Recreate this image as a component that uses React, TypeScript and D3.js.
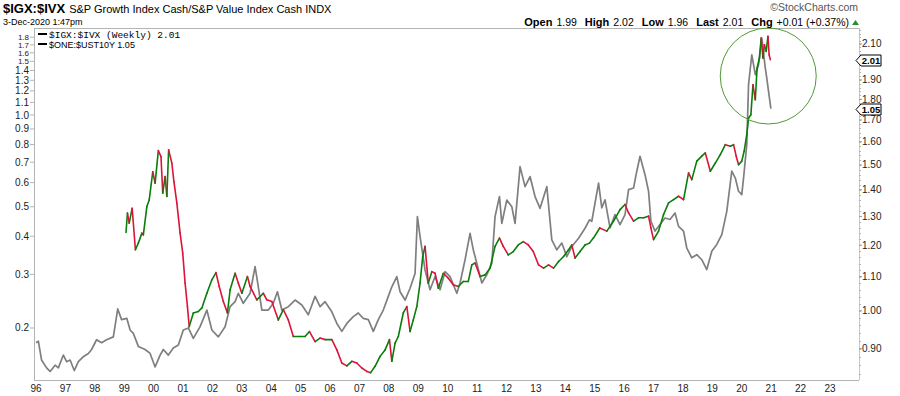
import { useEffect, useRef } from 'react';
import * as d3 from 'd3';

// $ONE:$UST10Y (gray, left log axis) - decimal year / value
const bondDates = [
  1996.0, 1996.08, 1996.19, 1996.36, 1996.48, 1996.65, 1996.76, 1996.93, 1997.04, 1997.16,
  1997.3, 1997.44, 1997.61, 1997.78, 1997.89, 1998.06, 1998.23, 1998.4, 1998.63, 1998.78,
  1998.91, 1999.09, 1999.2, 1999.31, 1999.48, 1999.71, 1999.88, 2000.05, 2000.22, 2000.33,
  2000.5, 2000.67, 2000.84, 2001.01, 2001.18, 2001.35, 2001.58, 2001.81, 2001.98, 2002.2,
  2002.43, 2002.6, 2002.77, 2002.88, 2003.05, 2003.28, 2003.45, 2003.56, 2003.68, 2003.9,
  2004.07, 2004.21, 2004.36, 2004.58, 2004.81, 2005.04, 2005.26, 2005.49, 2005.66, 2005.83,
  2006.06, 2006.23, 2006.4, 2006.57, 2006.79, 2006.96, 2007.13, 2007.3, 2007.47, 2007.64,
  2007.81, 2007.98, 2008.1, 2008.27, 2008.38, 2008.55, 2008.72, 2008.89, 2008.97, 2009.06,
  2009.23, 2009.4, 2009.57, 2009.74, 2009.91, 2010.08, 2010.31, 2010.42, 2010.59, 2010.76,
  2010.87, 2010.99, 2011.16, 2011.33, 2011.5, 2011.61, 2011.76, 2011.84, 2012.01, 2012.18,
  2012.29, 2012.46, 2012.63, 2012.8, 2012.97, 2013.14, 2013.37, 2013.54, 2013.71, 2013.88,
  2014.05, 2014.22, 2014.45, 2014.67, 2014.82, 2014.9, 2015.13, 2015.24, 2015.35, 2015.52,
  2015.69, 2015.86, 2016.03, 2016.15, 2016.32, 2016.43, 2016.54, 2016.71, 2016.83, 2016.91,
  2017.05, 2017.22, 2017.39, 2017.56, 2017.73, 2017.85, 2018.02, 2018.13, 2018.3, 2018.47,
  2018.64, 2018.81, 2018.98, 2019.15, 2019.32, 2019.49, 2019.66, 2019.78, 2019.89, 2020.0,
  2020.06, 2020.17, 2020.23, 2020.34, 2020.46, 2020.57, 2020.68, 2020.8, 2020.85, 2020.91,
  2020.99,
];
const bondValues = [
  0.179, 0.181, 0.157, 0.148, 0.144, 0.151, 0.148, 0.163, 0.155, 0.157,
  0.145, 0.155, 0.161, 0.165, 0.17, 0.183, 0.179, 0.183, 0.187, 0.231,
  0.213, 0.215, 0.197, 0.192, 0.174, 0.17, 0.165, 0.149, 0.163, 0.17,
  0.163, 0.172, 0.176, 0.197, 0.2, 0.185, 0.202, 0.229, 0.197, 0.187,
  0.202, 0.235, 0.244, 0.26, 0.241, 0.26, 0.318, 0.273, 0.229, 0.229,
  0.241, 0.263, 0.229, 0.235, 0.247, 0.238, 0.221, 0.254, 0.235, 0.244,
  0.226, 0.207, 0.195, 0.207, 0.218, 0.224, 0.215, 0.213, 0.195, 0.213,
  0.229, 0.254, 0.273, 0.295, 0.263, 0.247, 0.27, 0.302, 0.464, 0.399,
  0.31, 0.267, 0.295, 0.267, 0.306, 0.295, 0.26, 0.281, 0.335, 0.409,
  0.361, 0.326, 0.281, 0.299, 0.326, 0.464, 0.54, 0.441, 0.526, 0.5,
  0.441, 0.677, 0.582, 0.628, 0.54, 0.494, 0.582, 0.389, 0.361, 0.38,
  0.343, 0.37, 0.394, 0.425, 0.453, 0.448, 0.598, 0.496, 0.527, 0.426,
  0.471, 0.437, 0.471, 0.569, 0.576, 0.654, 0.732, 0.637, 0.562, 0.448,
  0.416, 0.437, 0.459, 0.454, 0.477, 0.431, 0.416, 0.366, 0.34, 0.348,
  0.335, 0.311, 0.357, 0.376, 0.405, 0.483, 0.654, 0.621, 0.562, 0.548,
  0.621, 0.799, 1.257, 1.577, 1.356, 1.462, 1.789, 1.426, 1.322, 1.196,
  1.05,
];

// $IGX:$IVX weekly ratio (red/green, right log axis)
const ratioDates = [
  1999.06, 1999.11, 1999.17, 1999.27, 1999.38, 1999.48, 1999.6, 1999.65, 1999.77, 1999.85,
  1999.97, 2000.05, 2000.16, 2000.25, 2000.31, 2000.39, 2000.45, 2000.51, 2000.62, 2000.69,
  2000.79, 2000.9, 2000.99, 2001.07, 2001.15, 2001.21, 2001.35, 2001.52, 2001.64, 2001.81,
  2001.98, 2002.12, 2002.23, 2002.37, 2002.51, 2002.6, 2002.77, 2002.88, 2003.0, 2003.19,
  2003.28, 2003.51, 2003.73, 2003.85, 2004.02, 2004.24, 2004.41, 2004.58, 2004.75, 2004.98,
  2005.15, 2005.3, 2005.49, 2005.66, 2005.83, 2006.06, 2006.23, 2006.4, 2006.57, 2006.74,
  2006.91, 2007.08, 2007.25, 2007.38, 2007.53, 2007.7, 2007.87, 2008.02, 2008.1, 2008.21,
  2008.32, 2008.49, 2008.61, 2008.72, 2008.83, 2008.95, 2009.06, 2009.15, 2009.23, 2009.34,
  2009.46, 2009.57, 2009.68, 2009.85, 2010.02, 2010.19, 2010.36, 2010.53, 2010.7, 2010.82,
  2010.93, 2011.1, 2011.27, 2011.44, 2011.61, 2011.76, 2011.89, 2012.06, 2012.23, 2012.4,
  2012.57, 2012.74, 2012.91, 2013.09, 2013.26, 2013.43, 2013.6, 2013.77, 2013.94, 2014.11,
  2014.22, 2014.33, 2014.5, 2014.67, 2014.82, 2014.96, 2015.17, 2015.41, 2015.64, 2015.86,
  2016.03, 2016.15, 2016.32, 2016.49, 2016.66, 2016.83, 2016.91, 2017.0, 2017.17, 2017.34,
  2017.51, 2017.68, 2017.85, 2018.02, 2018.19, 2018.3, 2018.47, 2018.64, 2018.76, 2018.93,
  2019.1, 2019.27, 2019.44, 2019.61, 2019.72, 2019.81, 2019.89, 2020.0, 2020.08, 2020.17,
  2020.23, 2020.31, 2020.38, 2020.46, 2020.52, 2020.6, 2020.66, 2020.72, 2020.77, 2020.83,
  2020.89, 2020.93, 2020.97,
];
const ratioValues = [
  1.243, 1.312, 1.276, 1.33, 1.185, 1.207, 1.241, 1.235, 1.336, 1.361,
  1.472, 1.426, 1.561, 1.535, 1.387, 1.452, 1.374, 1.564, 1.507, 1.432,
  1.349, 1.241, 1.174, 1.08, 1.012, 0.957, 0.994, 0.998, 1.008, 1.05,
  1.09, 1.112, 1.07, 1.026, 0.994, 1.06, 1.11, 1.08, 1.05, 1.1,
  1.07, 1.031, 1.05, 1.031, 1.026, 0.975, 1.003, 0.975, 0.931, 0.931,
  0.931, 0.944, 0.918, 0.927, 0.923, 0.923, 0.897, 0.865, 0.858, 0.869,
  0.865, 0.853, 0.845, 0.842, 0.857, 0.881, 0.897, 0.923, 0.869, 0.914,
  0.931, 0.994, 1.012, 0.944, 0.975, 1.012, 1.08, 1.163, 1.196, 1.08,
  1.115, 1.11, 1.065, 1.11, 1.095, 1.075, 1.07, 1.085, 1.085, 1.136,
  1.142, 1.1, 1.105, 1.126, 1.196, 1.224, 1.196, 1.168, 1.179, 1.201,
  1.212, 1.201, 1.179, 1.136, 1.126, 1.136, 1.126, 1.147, 1.163, 1.185,
  1.201, 1.158, 1.179, 1.201, 1.207, 1.225, 1.259, 1.248, 1.283, 1.325,
  1.344, 1.313, 1.283, 1.295, 1.295, 1.301, 1.259, 1.219, 1.248, 1.307,
  1.35, 1.362, 1.375, 1.362, 1.467, 1.44, 1.516, 1.537, 1.551, 1.474,
  1.508, 1.544, 1.587, 1.58, 1.587, 1.537, 1.501, 1.516, 1.558, 1.632,
  1.709, 1.725, 1.875, 1.798, 1.964, 2.019, 2.135, 2.019, 2.095, 2.057,
  2.145, 2.038, 2.01,
];

const leftTicks = [0.2, 0.3, 0.4, 0.5, 0.6, 0.7, 0.8, 0.9, 1.0, 1.1, 1.2, 1.3, 1.4, 1.5, 1.6, 1.7, 1.8];
const rightTicks = [0.9, 1.0, 1.1, 1.2, 1.3, 1.4, 1.5, 1.6, 1.7, 1.8, 1.9, 2.0, 2.1];
const yearTicks = d3.range(1996, 2024);

const quote = [
  { k: 'Open', v: '1.99' },
  { k: 'High', v: '2.02' },
  { k: 'Low', v: '1.96' },
  { k: 'Last', v: '2.01' },
  { k: 'Chg', v: '+0.01 (+0.37%)' },
];

const FONT = 'Liberation Sans, Arial, sans-serif';

export default function App() {
  const svgRef = useRef<SVGSVGElement>(null);

  useEffect(() => {
    if (!svgRef.current) return;
    const svg = d3.select(svgRef.current);
    svg.selectAll('*').remove();

    const left = 34, right = 859, top = 28, bottom = 380;

    const x = d3.scaleLinear().domain([1996, 2023]).range([36, 830]);
    const yL = d3.scaleLog().domain([0.135, 1.93]).range([bottom, top]);
    const yR = d3.scaleLog().domain([0.825, 2.195]).range([bottom, top]);

    // frame
    svg.append('line').attr('x1', left).attr('x2', right).attr('y1', top + 0.5).attr('y2', top + 0.5)
      .attr('stroke', '#b4b4b4');
    svg.append('line').attr('x1', left + 0.5).attr('x2', left + 0.5).attr('y1', top).attr('y2', bottom)
      .attr('stroke', '#b4b4b4');
    svg.append('line').attr('x1', left).attr('x2', right).attr('y1', bottom + 0.5).attr('y2', bottom + 0.5)
      .attr('stroke', '#b4b4b4');
    svg.append('line').attr('x1', right + 0.5).attr('x2', right + 0.5).attr('y1', top).attr('y2', bottom)
      .attr('stroke', '#c8c8c8');

    // left axis (top labels are crowded on the log scale, so a touch smaller)
    const la = svg.append('g');
    leftTicks.forEach(t => {
      const y = yL(t);
      la.append('line').attr('x1', left - 4).attr('x2', left).attr('y1', y).attr('y2', y).attr('stroke', '#b4b4b4');
      la.append('text').attr('x', left - 5).attr('y', y).attr('dy', '0.35em').attr('text-anchor', 'end')
        .attr('font-family', FONT).attr('font-size', t > 1.45 ? 8 : 10).attr('fill', '#222').text(t.toFixed(1));
    });

    // bottom axis
    yearTicks.forEach(yr => {
      svg.append('text').attr('x', x(yr)).attr('y', 392).attr('text-anchor', 'middle')
        .attr('font-family', FONT).attr('font-size', 10).attr('fill', '#222')
        .text(String(yr % 100).padStart(2, '0'));
    });

    // right axis minor ticks
    const ra = svg.append('g');
    d3.range(0.84, 2.19, 0.02).forEach(t => {
      const y = Math.round(yR(t)) + 0.5;
      ra.append('line').attr('x1', right).attr('x2', right + 2).attr('y1', y).attr('y2', y).attr('stroke', '#b4b4b4');
    });

    const markers = [
      { value: ratioValues[ratioValues.length - 1], y: yR(ratioValues[ratioValues.length - 1]) },
      { value: bondValues[bondValues.length - 1], y: yL(bondValues[bondValues.length - 1]) },
    ];

    rightTicks.forEach(t => {
      const y = yR(t);
      ra.append('line').attr('x1', right).attr('x2', right + 3).attr('y1', y).attr('y2', y).attr('stroke', '#999');
      if (markers.some(m => Math.abs(m.y - y) < 7)) return;
      ra.append('text').attr('x', right + 3).attr('y', y).attr('dy', '0.35em')
        .attr('font-family', FONT).attr('font-size', 10).attr('fill', '#222').text(t.toFixed(2));
    });

    // gray bond line
    const bondLine = d3.line<number>()
      .x((_, i) => x(bondDates[i]))
      .y(d => yL(d));
    svg.append('path').datum(bondValues).attr('d', bondLine).attr('fill', 'none')
      .attr('stroke', '#7f7f7f').attr('stroke-width', 1.7).attr('stroke-linejoin', 'round');

    // ratio line, coloured by direction
    const rg = svg.append('g');
    for (let i = 1; i < ratioValues.length; i++) {
      const up = ratioValues[i] >= ratioValues[i - 1];
      rg.append('line')
        .attr('x1', x(ratioDates[i - 1])).attr('y1', yR(ratioValues[i - 1]))
        .attr('x2', x(ratioDates[i])).attr('y2', yR(ratioValues[i]))
        .attr('stroke', up ? '#0a7d0a' : '#dc143c')
        .attr('stroke-width', 1.6).attr('stroke-linecap', 'round');
    }

    // last value markers
    markers.forEach(m => {
      const y = Math.round(m.y) + 0.5;
      svg.append('path')
        .attr('d', `M${right - 3},${y} L${right + 2},${y - 5.5} L${right + 22},${y - 5.5} L${right + 22},${y + 5.5} L${right + 2},${y + 5.5} Z`)
        .attr('fill', '#fff').attr('stroke', '#000');
      svg.append('text').attr('x', right + 12).attr('y', y).attr('dy', '0.36em').attr('text-anchor', 'middle')
        .attr('font-family', FONT).attr('font-size', 9.5).attr('font-weight', 'bold').attr('fill', '#000')
        .text(m.value.toFixed(2));
    });

    // highlight circle
    svg.append('ellipse').attr('cx', x(2020.9)).attr('cy', 76).attr('rx', 48).attr('ry', 48)
      .attr('fill', 'none').attr('stroke', '#4f9a33').attr('stroke-width', 1);

    // header
    const title = svg.append('text').attr('x', 3).attr('y', 13).attr('font-family', FONT).attr('fill', '#000');
    title.append('tspan').attr('font-size', 13).attr('font-weight', 'bold').text('$IGX:$IVX');
    title.append('tspan').attr('font-size', 11).attr('dx', 4).text('S&P Growth Index Cash/S&P Value Index Cash INDX');

    svg.append('text').attr('x', 3).attr('y', 25).attr('font-family', FONT).attr('font-size', 9)
      .attr('fill', '#000').text('3-Dec-2020 1:47pm');

    svg.append('text').attr('x', 858).attr('y', 11).attr('text-anchor', 'end').attr('font-family', FONT)
      .attr('font-size', 10.5).attr('fill', '#555').text('\u00A9StockCharts.com');

    const q = svg.append('text').attr('x', 849).attr('y', 26).attr('text-anchor', 'end')
      .attr('font-family', FONT).attr('fill', '#000');
    quote.forEach((d, i) => {
      q.append('tspan').attr('font-size', 11).attr('font-weight', 'bold').attr('dx', i === 0 ? 0 : 8).text(d.k);
      q.append('tspan').attr('font-size', 10.5).attr('dx', 4).text(d.v);
    });
    svg.append('path').attr('d', 'M852,25 L855.5,20 L859,25 Z').attr('fill', '#2e8b2e');

    // legend
    const lg = svg.append('g');
    lg.append('rect').attr('x', 38).attr('y', 33).attr('width', 9).attr('height', 2).attr('fill', '#000');
    lg.append('text').attr('x', 49).attr('y', 37.5).attr('font-family', 'Liberation Mono, monospace')
      .attr('font-size', 9.5).attr('fill', '#000').text(`$IGX:$IVX (Weekly) ${ratioValues[ratioValues.length - 1].toFixed(2)}`);
    lg.append('rect').attr('x', 38).attr('y', 43).attr('width', 9).attr('height', 2).attr('fill', '#000');
    lg.append('text').attr('x', 49).attr('y', 47.5).attr('font-family', FONT)
      .attr('font-size', 9).attr('fill', '#000').text(`$ONE:$UST10Y ${bondValues[bondValues.length - 1].toFixed(2)}`);
  }, []);

  return (
    <svg
      ref={svgRef}
      width={900}
      height={396}
      viewBox="0 0 900 396"
      style={{ position: 'absolute', left: 0, top: 0, background: '#fff' }}
    />
  );
}
